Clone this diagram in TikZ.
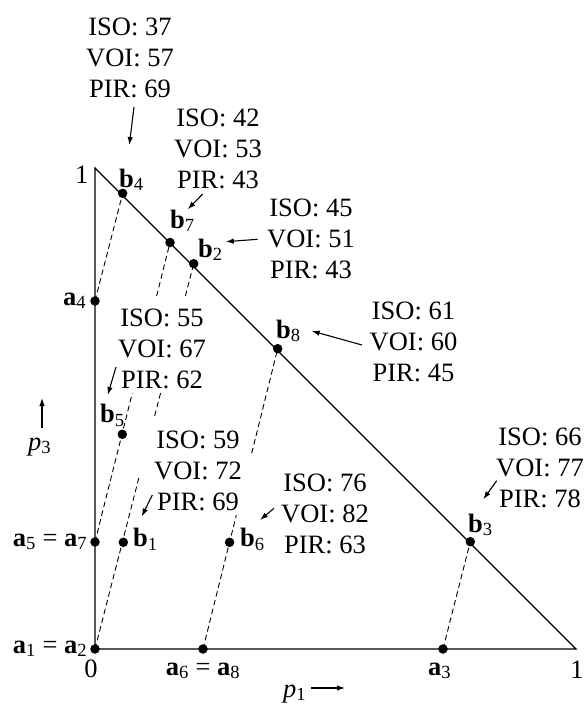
\documentclass[tikz,border=0pt]{standalone}
\usepackage{fontspec}
\setmainfont{Liberation Serif}
\usetikzlibrary{arrows.meta,calc}
\tikzset{
  x=1bp,y=-1bp,
  dot/.style={circle,fill=black,inner sep=0pt,minimum size=9.5bp},
  edge/.style={line width=1.1bp},
  dl/.style={line width=0.9bp,dash pattern=on 5.5bp off 3.5bp},
  arr/.style={line width=1.1bp,-{Latex[length=8bp,width=5.5bp]}},
  blk/.style={align=center,inner sep=0pt,font=\fontsize{26.5bp}{31bp}\selectfont},
  lab/.style={inner sep=0pt,anchor=base west,font=\fontsize{26.5bp}{31bp}\selectfont},
  num/.style={inner sep=0pt,anchor=base,font=\fontsize{26.5bp}{31bp}\selectfont}
}
\newcommand{\bv}[2]{\textbf{#1}\textsubscript{#2}}
\begin{document}
\begin{tikzpicture}
\useasboundingbox (0,0) rectangle (584,709);
% triangle corners
\coordinate (O) at (95,649);
\coordinate (T) at (95,168);
\coordinate (R) at (576,649);
\draw[edge] (T) -- (O) -- (R) -- cycle;
% points
\node[dot] (a1) at (95,649) {};
\node[dot] (a4) at (95,301) {};
\node[dot] (a5) at (95,542) {};
\node[dot] (a6) at (203,649) {};
\node[dot] (a3) at (443,649) {};
\node[dot] (b4) at (122.7,193.3) {};
\node[dot] (b7) at (170,242.5) {};
\node[dot] (b2) at (193.7,263.7) {};
\node[dot] (b8) at (277.7,348.7) {};
\node[dot] (b5) at (122.3,434.3) {};
\node[dot] (b1) at (123.3,542.3) {};
\node[dot] (b6) at (229.6,542.3) {};
\node[dot] (b3) at (470.3,541.7) {};
% dashed connectors
\draw[dl] (a4.center) -- (b4.center);
\draw[dl] (a3.center) -- (b3.center);
\draw[dl] (a5.center) -- ($(a5.center)!0.497!(b7.center)$);
\draw[dl] ($(a5.center)!0.821!(b7.center)$) -- (b7.center);
\draw[dl] (a1.center) -- ($(a1.center)!0.447!(b2.center)$);
\draw[dl] ($(a1.center)!0.605!(b2.center)$) -- ($(a1.center)!0.664!(b2.center)$);
\draw[dl] ($(a1.center)!0.916!(b2.center)$) -- (b2.center);
\draw[dl] (a6.center) -- ($(a6.center)!0.446!(b8.center)$);
\draw[dl] ($(a6.center)!0.652!(b8.center)$) -- (b8.center);
% point labels
\node[lab] (lb4) at (119,187) {\bv{b}{4}};
\node[lab] (lb7) at (170,228) {\bv{b}{7}};
\node[lab] (lb2) at (198,257) {\bv{b}{2}};
\node[lab] (lb8) at (276,338) {\bv{b}{8}};
\node[lab] (la4) at (63,305) {\bv{a}{4}};
\node[lab] (lb5) at (100,422.5) {\bv{b}{5}};
\node[lab] (la5) at (12.7,546) {\bv{a}{5} = \bv{a}{7}};
\node[lab] (lb1) at (133,546.5) {\bv{b}{1}};
\node[lab] (lb6) at (240,546.5) {\bv{b}{6}};
\node[lab] (la1) at (12.7,653) {\bv{a}{1} = \bv{a}{2}};
\node[lab] (la6) at (165.7,675) {\bv{a}{6} = \bv{a}{8}};
\node[lab] (la3) at (428,675) {\bv{a}{3}};
\node[lab] (lb3) at (468,532) {\bv{b}{3}};
\node[num] (one3) at (81.7,183.5) {1};
\node[num] (zero) at (91,677) {0};
\node[num] (one1) at (577,678) {1};
% axis labels
\node[lab] (p3) at (28,450) {\textit{p}\textsubscript{3}};
\coordinate (p3s) at (42,428);
\coordinate (p3e) at (42,398);
\draw[arr] (p3s) -- (p3e);
\node[lab] (p1) at (283,697) {\textit{p}\textsubscript{1}};
\coordinate (p1s) at (311,688);
\coordinate (p1e) at (345,688);
\draw[arr] (p1s) -- (p1e);
% score blocks
\node[blk] (t1) at (130,58) {ISO: 37\\VOI: 57\\PIR: 69};
\node[blk] (t2) at (218,148.5) {ISO: 42\\VOI: 53\\PIR: 43};
\node[blk] (t3) at (311,239) {ISO: 45\\VOI: 51\\PIR: 43};
\node[blk] (t4) at (162,349) {ISO: 55\\VOI: 67\\PIR: 62};
\node[blk] (t5) at (413.5,342) {ISO: 61\\VOI: 60\\PIR: 45};
\node[blk] (t6) at (540,467.5) {ISO: 66\\VOI: 77\\PIR: 78};
\node[blk] (t7) at (198,471) {ISO: 59\\VOI: 72\\PIR: 69};
\node[blk] (t8) at (325,513.5) {ISO: 76\\VOI: 82\\PIR: 63};
% pointer arrows
\coordinate (s1) at (134,107);   \coordinate (e1) at (129.3,145);
\coordinate (s2) at (202.7,194); \coordinate (e2) at (187.7,209.3);
\coordinate (s3) at (257.7,239.3); \coordinate (e3) at (225.7,241.7);
\coordinate (s4) at (116,367);   \coordinate (e4) at (107.7,395);
\coordinate (s5) at (362,345);   \coordinate (e5) at (311.7,331);
\coordinate (s6) at (496.7,480.7); \coordinate (e6) at (483.3,499.3);
\coordinate (s7) at (152.3,495); \coordinate (e7) at (141.7,516.5);
\coordinate (s8) at (274,508.3); \coordinate (e8) at (260,520);
\foreach \i in {1,...,8} {\draw[arr] (s\i) -- (e\i);}
\end{tikzpicture}
\end{document}
